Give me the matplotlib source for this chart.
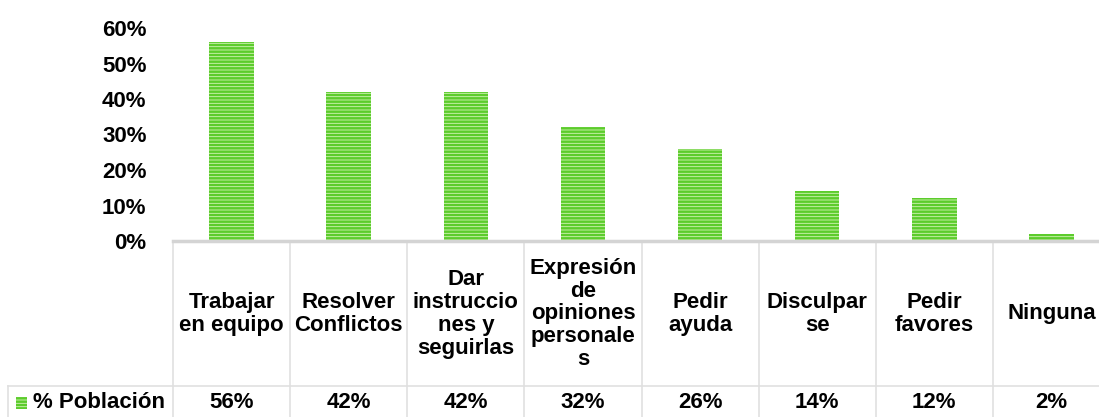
import matplotlib
matplotlib.use("Agg")
import matplotlib.pyplot as plt
from matplotlib.transforms import blended_transform_factory
from matplotlib.patches import Rectangle

# data
categorias = ["Trabajar\nen equipo", "Resolver\nConflictos", "Dar\ninstruccio\nnes y\nseguirlas",
              "Expresión\nde\nopiniones\npersonale\ns", "Pedir\nayuda", "Disculpar\nse",
              "Pedir\nfavores", "Ninguna"]
poblacion = [0.56, 0.42, 0.42, 0.32, 0.26, 0.14, 0.12, 0.02]
serie = "% Población"
yticks = [0, 0.1, 0.2, 0.3, 0.4, 0.5, 0.6]

fs = 16
plt.rcParams['font.family'] = ['Liberation Sans', 'DejaVu Sans']
plt.rcParams['hatch.linewidth'] = 1.8

W, H = 1099, 417
fig = plt.figure(figsize=(W / 100, H / 100), dpi=100)
ax = fig.add_axes([173 / W, (H - 241) / H, (1110 - 173) / W, (241 - 28) / H])

verde = '#5ccc2c'
claro = '#d4f4b8'
x = list(range(len(categorias)))
ax.bar(x, poblacion, width=0.38, color=claro, edgecolor=verde, linewidth=0, hatch='-----')

ax.set_xlim(-0.5, len(categorias) - 0.5)
ax.set_ylim(0, 0.6)
ax.set_yticks(yticks)
ax.set_yticklabels([f"{int(round(t * 100))}%" for t in yticks], fontsize=fs, fontweight='bold')
ax.tick_params(axis='y', length=0, pad=19)
ax.set_xticks([])
for s in ['top', 'right', 'left']:
    ax.spines[s].set_visible(False)
ax.spines['bottom'].set_color('#d4d4d4')
ax.spines['bottom'].set_linewidth(2.5)

# data table below the chart
tr = blended_transform_factory(ax.transData, fig.transFigure)
gris = '#e0e0e0'
y_top = (H - 242) / H
y_mid = (H - 386) / H
for i in range(len(categorias) + 1):
    ax.plot([i - 0.5, i - 0.5], [0, y_top], color=gris, lw=1.2, transform=tr, clip_on=False)
fig.add_artist(plt.Line2D([8 / W, 1], [y_mid, y_mid], color=gris, lw=1.2))
fig.add_artist(plt.Line2D([8 / W, 8 / W], [0, y_mid], color=gris, lw=1.2))

for i, (c, v) in enumerate(zip(categorias, poblacion)):
    ax.text(i, (H - 314) / H, c, transform=tr, ha='center', va='center', fontsize=fs,
            fontweight='bold', linespacing=1.12, clip_on=False)
    ax.text(i, (H - 402) / H, f"{int(round(v * 100))}%", transform=tr, ha='center',
            va='center', fontsize=fs, fontweight='bold', clip_on=False)

fig.add_artist(Rectangle((16 / W, (H - 409) / H), 11 / W, 12 / H, facecolor=claro,
                         edgecolor=verde, linewidth=0, hatch='-----', transform=fig.transFigure))
fig.text(33 / W, (H - 402) / H, serie, ha='left', va='center', fontsize=fs, fontweight='bold')

fig.savefig("out.png", dpi=100)
